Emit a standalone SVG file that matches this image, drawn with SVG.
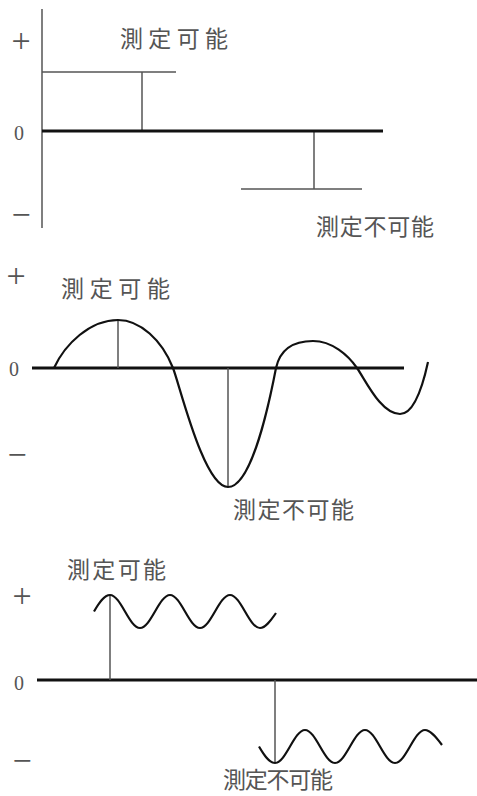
<svg xmlns="http://www.w3.org/2000/svg" width="477" height="796" viewBox="0 0 477 796">
<style>
.lbl{font-family:"Noto Sans CJK JP","Noto Sans CJK SC",sans-serif;font-size:23px;fill:#555;dominant-baseline:central}
.sym{font-family:"Liberation Serif",serif;fill:#555;text-anchor:middle;dominant-baseline:central}
.pm{font-size:34px}
.z{font-size:20px}
.thin{stroke:#555;stroke-width:1.5;fill:none}
.zero{stroke:#111;stroke-width:3;fill:none}
.wave{stroke:#111;stroke-width:2.2;fill:none}
</style>
<rect width="477" height="796" fill="#fff"/>
<g id="panel1">
  <g id="p1-axes">
    <line class="thin" x1="42" y1="9" x2="42" y2="228"/>
    <text class="sym pm" x="21" y="40">+</text>
    <text class="sym z" x="19" y="133">0</text>
    <text class="sym pm" x="21" y="214">−</text>
  </g>
  <g id="p1-lines">
    <line class="thin" x1="42" y1="72" x2="176" y2="72"/>
    <line class="thin" x1="142" y1="72" x2="142" y2="131"/>
    <line class="thin" x1="314" y1="131" x2="314" y2="189"/>
    <line class="thin" x1="241" y1="189" x2="362" y2="189"/>
    <line class="zero" x1="42" y1="131" x2="383" y2="131"/>
  </g>
  <text id="p1-ok" class="lbl" x="120" y="37" textLength="108" lengthAdjust="spacing">測定可能</text>
  <text id="p1-ng" class="lbl" x="316" y="225" textLength="118" lengthAdjust="spacing">測定不可能</text>
</g>
<g id="panel2">
  <g id="p2-axes">
    <text class="sym pm" x="16" y="275">+</text>
    <text class="sym z" x="14" y="369">0</text>
    <text class="sym pm" x="17" y="454">−</text>
  </g>
  <line class="zero" x1="32" y1="368" x2="404" y2="368"/>
  <line class="thin" x1="118" y1="320" x2="118" y2="368"/>
  <line class="thin" x1="228" y1="368" x2="228" y2="487"/>
  <path id="p2-wave" class="wave" d="M54 368 C65 344 90 320 118 320 C140 320 162 340 173 368 C180 386 204 487 228 487 C249 487 266 420 276 368 C280 350 292 341 313 341 C332 341 348 355 357 368 C366 381 381 414 400 414 C414 414 423 385 428 362"/>
  <text id="p2-ok" class="lbl" x="61" y="287" textLength="109" lengthAdjust="spacing">測定可能</text>
  <text id="p2-ng" class="lbl" x="233" y="508" textLength="121" lengthAdjust="spacing">測定不可能</text>
</g>
<g id="panel3">
  <g id="p3-axes">
    <text class="sym pm" x="22" y="595">+</text>
    <text class="sym z" x="19" y="683">0</text>
    <text class="sym pm" x="22" y="760">−</text>
  </g>
  <line class="zero" x1="37" y1="680" x2="477" y2="680"/>
  <line class="thin" x1="110" y1="595" x2="110" y2="680"/>
  <line class="thin" x1="275" y1="680" x2="275" y2="763"/>
  <path id="p3-wave-up" class="wave" d="M94 611.5 C99.2 602.5 104.2 595 110 595 C120.9 595 129.1 628 140 628 S159.1 595 170 595 S189.1 628 200 628 S219.1 595 230 595 S249.1 628 260 628 C265.4 628 270.5 621 276 613"/>
  <path id="p3-wave-down" class="wave" d="M259 746.5 C264.2 755.5 269.2 763 275 763 C285.9 763 294.1 730 305 730 S324.1 763 335 763 S354.1 730 365 730 S384.1 763 395 763 S414.1 730 425 730 C430.4 730 436 737 442 745"/>
  <text id="p3-ok" class="lbl" x="67" y="568" textLength="99" lengthAdjust="spacing">測定可能</text>
  <text id="p3-ng" class="lbl" x="223" y="778" textLength="110" lengthAdjust="spacing">測定不可能</text>
</g>
</svg>
